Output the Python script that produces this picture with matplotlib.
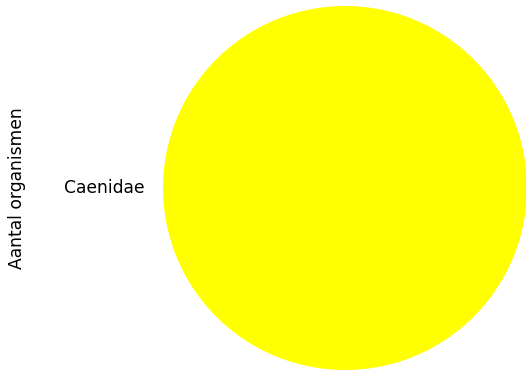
import matplotlib
matplotlib.use("Agg")
import matplotlib.pyplot as plt

# Data
families = ["Caenidae"]
counts = [1]
colors = ["#ffff00"]

W, H = 526, 373

fig = plt.figure(figsize=(W / 100, H / 100), dpi=100)
# pie occupies a square area on the right of the figure
ax = fig.add_axes([163 / W, 3 / H, 364 / W, 364 / H])

ax.pie(counts, labels=families, colors=colors, labeldistance=1.1,
       textprops=dict(fontsize=12.3))
ax.set_xlim(-1, 1)
ax.set_ylim(-1, 1)
ax.set_aspect("equal")
ax.set_ylabel("Aantal organismen", fontsize=12.3)
ax.yaxis.set_label_coords(-0.377, 0.5)

fig.savefig("out.png", dpi=100)
